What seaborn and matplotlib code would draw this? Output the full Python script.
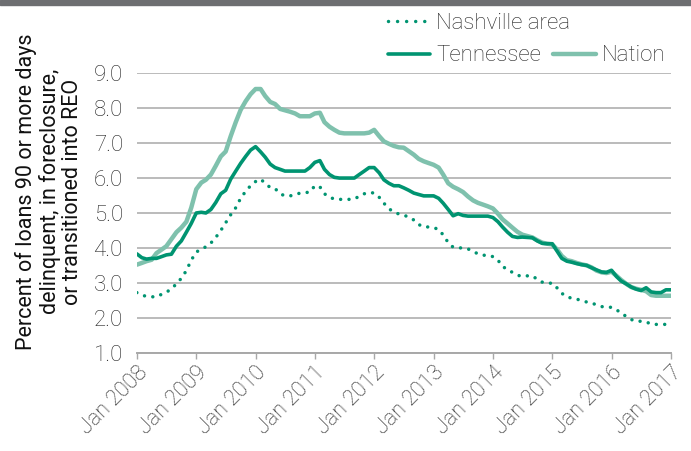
import numpy as np
import pandas as pd
import matplotlib
matplotlib.use("Agg")
import matplotlib.pyplot as plt
import matplotlib.transforms as mtransforms
from matplotlib.lines import Line2D
import seaborn as sns

# ---- data (monthly, Jan 2008 .. Jan 2017) ----
nation = [
    3.52, 3.57, 3.62, 3.66, 3.85, 3.95, 4.05, 4.25, 4.45, 4.58, 4.75, 5.15,
    5.68, 5.87, 5.95, 6.1, 6.35, 6.62, 6.76, 7.2, 7.6, 7.95, 8.2, 8.4,
    8.55, 8.55, 8.35, 8.18, 8.12, 7.98, 7.94, 7.9, 7.85, 7.77, 7.77, 7.77,
    7.85, 7.87, 7.6, 7.47, 7.38, 7.3, 7.28, 7.28, 7.28, 7.28, 7.28, 7.3,
    7.38, 7.2, 7.05, 6.98, 6.92, 6.88, 6.87, 6.77, 6.67, 6.55, 6.48, 6.43,
    6.38, 6.3, 6.1, 5.85, 5.75, 5.68, 5.6, 5.47, 5.36, 5.29, 5.24, 5.19,
    5.13, 4.98, 4.82, 4.7, 4.58, 4.46, 4.38, 4.34, 4.3, 4.22, 4.15, 4.12,
    4.1, 3.95, 3.77, 3.65, 3.62, 3.57, 3.53, 3.5, 3.44, 3.35, 3.3, 3.28,
    3.32, 3.2, 3.08, 2.97, 2.88, 2.83, 2.8, 2.76, 2.65, 2.63, 2.63, 2.63,
    2.63,
]
tennessee = [
    3.83, 3.72, 3.68, 3.7, 3.7, 3.75, 3.8, 3.82, 4.05, 4.2, 4.45, 4.7,
    5.0, 5.02, 5.0, 5.1, 5.3, 5.55, 5.65, 5.97, 6.2, 6.42, 6.62, 6.8,
    6.9, 6.75, 6.6, 6.4, 6.3, 6.25, 6.2, 6.2, 6.2, 6.2, 6.2, 6.3,
    6.45, 6.5, 6.25, 6.1, 6.02, 6.0, 6.0, 6.0, 6.0, 6.1, 6.2, 6.3,
    6.3, 6.15, 5.95, 5.85, 5.78, 5.78, 5.72, 5.65, 5.57, 5.53, 5.49, 5.49,
    5.49, 5.42, 5.28, 5.1, 4.92, 4.98, 4.93, 4.91, 4.91, 4.91, 4.91, 4.91,
    4.87, 4.75, 4.6, 4.45, 4.33, 4.3, 4.31, 4.3, 4.29, 4.2, 4.13, 4.12,
    4.12, 3.9, 3.7, 3.62, 3.59, 3.55, 3.52, 3.5, 3.43, 3.37, 3.31, 3.3,
    3.36, 3.18, 3.05, 2.97, 2.88, 2.82, 2.78, 2.86, 2.74, 2.72, 2.72, 2.8,
    2.8,
]
nashville = [
    2.72, 2.65, 2.61, 2.6, 2.6, 2.67, 2.73, 2.83, 2.97, 3.13, 3.35, 3.65,
    3.88, 3.97, 4.03, 4.14, 4.3, 4.5, 4.72, 4.95, 5.15, 5.42, 5.62, 5.78,
    5.9, 5.97, 5.85, 5.73, 5.7, 5.55, 5.49, 5.49, 5.52, 5.57, 5.58, 5.6,
    5.78, 5.75, 5.55, 5.45, 5.4, 5.39, 5.39, 5.39, 5.4, 5.48, 5.55, 5.59,
    5.57, 5.45, 5.28, 5.12, 5.03, 4.97, 4.94, 4.88, 4.8, 4.67, 4.6, 4.6,
    4.58, 4.53, 4.37, 4.15, 4.02, 4.0, 4.0, 3.97, 3.9, 3.83, 3.79, 3.79,
    3.75, 3.65, 3.47, 3.38, 3.3, 3.22, 3.18, 3.2, 3.2, 3.1, 3.02, 2.99,
    2.99, 2.85, 2.7, 2.6, 2.56, 2.53, 2.5, 2.45, 2.42, 2.37, 2.32, 2.3,
    2.3, 2.22, 2.15, 2.03, 1.95, 1.9, 1.9, 1.88, 1.82, 1.81, 1.81, 1.81,
    1.81,
]
months = pd.date_range("2008-01-01", "2017-01-01", freq="MS")
tick_years = list(range(2008, 2018))
tick_labels = [f"Jan {y}" for y in tick_years]
y_ticks = [1.0, 2.0, 3.0, 4.0, 5.0, 6.0, 7.0, 8.0, 9.0]

series_names = ["Nashville area", "Tennessee", "Nation"]

df = pd.DataFrame({
    "date": np.tile(months, 3),
    "value": nashville + tennessee + nation,
    "series": np.repeat(series_names, len(months)),
})

# ---- style ----
sns.set_theme(style="white")
plt.rcParams["font.family"] = ["Roboto", "DejaVu Sans"]

DARK = "#009471"
LIGHT = "#7fc1ad"
GRID = "#a8a8a8"
TXT = "#222222"
FS = 16

fig = plt.figure(figsize=(6.91, 4.51), dpi=100)
ax = fig.add_axes([0.198, 0.218, 0.773, 0.6195])

sns.lineplot(data=df[df.series == "Nation"], x="date", y="value", ax=ax,
             color=LIGHT, linewidth=3.2, legend=False)
sns.lineplot(data=df[df.series == "Tennessee"], x="date", y="value", ax=ax,
             color=DARK, linewidth=2.6, legend=False)
sns.lineplot(data=df[df.series == "Nashville area"], x="date", y="value", ax=ax,
             color=DARK, linewidth=2.5, legend=False,
             linestyle=(0, (0.01, 2.4)))
ax.get_lines()[-1].set_dash_capstyle("round")

ax.set_xlim(months[0], months[-1])
ax.set_ylim(1.0, 9.0)
ax.set_yticks(y_ticks)
ax.set_yticklabels([f"{v:.1f}" for v in y_ticks], fontsize=FS,
                   color=TXT, fontweight="light")
ax.set_xticks(pd.to_datetime([f"{y}-01-01" for y in tick_years]))
ax.set_xticklabels(tick_labels, fontsize=15.5, color=TXT, fontweight="light",
                   rotation=45, ha="right", va="top", rotation_mode="anchor")
offset = mtransforms.ScaledTranslation(6 / 72, -1 / 72, fig.dpi_scale_trans)
for lab in ax.get_xticklabels():
    lab.set_transform(lab.get_transform() + offset)
ax.set_xlabel("")
ax.set_ylabel("")

ax.grid(axis="y", color=GRID, linewidth=1.1)
ax.grid(axis="x", visible=False)
ax.set_axisbelow(True)
for s in ["top", "right", "left"]:
    ax.spines[s].set_visible(False)
ax.spines["bottom"].set_color(GRID)
ax.spines["bottom"].set_linewidth(1.4)
ax.tick_params(axis="x", which="major", bottom=True, length=4, width=1,
               color=GRID, pad=3)
ax.tick_params(axis="y", left=False, pad=4)

# y label
fig.text(0.071, 0.575,
         "Percent of loans 90 or more days\ndelinquent, in foreclosure,\nor transitioned into REO",
         rotation=90, ha="center", va="center", fontsize=15.5, color="#111111",
         linespacing=1.1, multialignment="center")

# top band
fig.patches.append(plt.Rectangle((0, 0.99), 1, 0.01, transform=fig.transFigure,
                                 color="#6d6e71", zorder=10))

# legends
h_nash = Line2D([], [], color=DARK, linewidth=2.5, linestyle=(0, (0.01, 2.6)),
                dash_capstyle="round")
h_tn = Line2D([], [], color=DARK, linewidth=2.6)
h_na = Line2D([], [], color=LIGHT, linewidth=3.2)
leg_kw = dict(frameon=False, handlelength=1.9, handletextpad=0.27,
              borderpad=0, borderaxespad=0, labelcolor=TXT, columnspacing=0.55,
              prop={"size": FS, "weight": "light"})
leg1 = fig.legend([h_nash], ["Nashville area"], loc="center left",
                  bbox_to_anchor=(0.5615, 0.949), **leg_kw)
leg2 = fig.legend([h_tn, h_na], ["Tennessee", "Nation"], loc="center left",
                  ncol=2, bbox_to_anchor=(0.5615, 0.876), **leg_kw)

fig.savefig("out.png", dpi=100)
